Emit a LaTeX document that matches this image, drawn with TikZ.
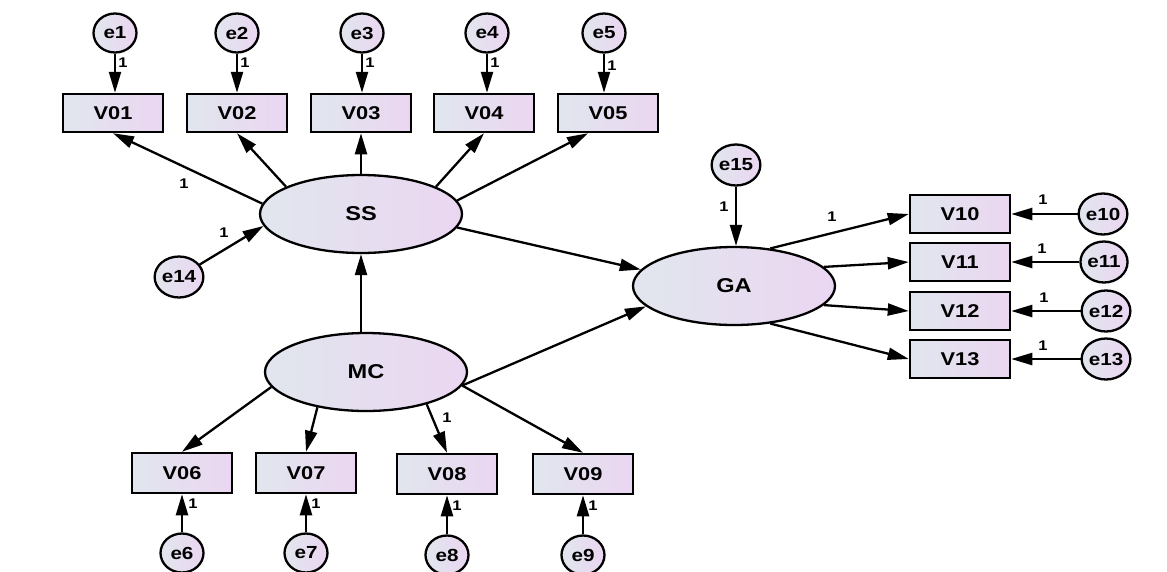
\documentclass[tikz,border=0pt]{standalone}
\usepackage{fontspec}
\setmainfont{Liberation Sans}[FakeStretch=1.18]
\usetikzlibrary{shapes.geometric,arrows.meta}
\definecolor{gradL}{HTML}{E1E6EE}
\definecolor{gradR}{HTML}{EBD6F1}
\tikzset{
 fillgrad/.style={left color=gradL, right color=gradR},
 obs/.style={draw, line width=2.5pt, fillgrad, minimum width=100pt, minimum height=38pt, inner sep=0pt, font=\fontsize{18.5}{18.5}\selectfont\bfseries},
 lat/.style={ellipse, draw, line width=2.3pt, fillgrad, minimum width=202pt, minimum height=78pt, inner sep=0pt, font=\fontsize{20}{20}\selectfont\bfseries},
 err/.style={ellipse, draw, line width=2.3pt, fillgrad, minimum width=43pt, minimum height=39pt, inner sep=0pt, font=\fontsize{17.5}{17.5}\selectfont\bfseries},
 errw/.style={err, minimum width=47pt, minimum height=41pt},
 arr/.style={line width=2.3pt, -{Triangle[length=21pt,width=12pt]}},
 lab/.style={font=\fontsize{14}{14}\selectfont\bfseries, inner sep=0pt},
}
\begin{document}
\begin{tikzpicture}[x=1pt,y=-1pt]
\useasboundingbox (0,0) rectangle (1167,571);
% observed top
\node[obs] (V01) at (113,113) {V01};
\node[obs] (V02) at (237,113) {V02};
\node[obs] (V03) at (361,113) {V03};
\node[obs] (V04) at (484,113) {V04};
\node[obs] (V05) at (608,113) {V05};
\node[err] (e1) at (115,33) {e1};
\node[err] (e2) at (237,33) {e2};
\node[err] (e3) at (362,33) {e3};
\node[err] (e4) at (487,33) {e4};
\node[err] (e5) at (604,33) {e5};
% latents
\node[lat] (SS) at (361,214) {SS};
\node[lat] (GA) at (734,286) {GA};
\node[lat] (MC) at (366,372) {MC};
\node[errw] (e14) at (179,277) {e14};
\node[errw] (e15) at (736,165) {e15};
% right observed
\node[obs] (V10) at (960,214) {V10};
\node[obs] (V11) at (960,262) {V11};
\node[obs] (V12) at (960,311) {V12};
\node[obs] (V13) at (960,359) {V13};
\node[errw] (e10) at (1103,214) {e10};
\node[errw] (e11) at (1104,262) {e11};
\node[errw] (e12) at (1106,311) {e12};
\node[errw] (e13) at (1106,359) {e13};
% bottom observed
\node[obs, minimum height=40pt] (V06) at (182,473) {V06};
\node[obs, minimum height=40pt] (V07) at (306,473) {V07};
\node[obs, minimum height=40pt] (V08) at (447,474) {V08};
\node[obs, minimum height=40pt] (V09) at (583,474) {V09};
\node[err] (e6) at (182,553) {e6};
\node[err] (e7) at (306,553) {e7};
\node[err] (e8) at (447,555) {e8};
\node[err] (e9) at (583,555) {e9};
% error arrows
\foreach \i/\v in {1/V01,2/V02,3/V03,4/V04,5/V05}{
  \draw[arr] (e\i.south) -- (e\i.south |- \v.north);
}
\foreach \i/\v in {6/V06,7/V07,8/V08,9/V09}{
  \draw[arr] (e\i.north) -- (e\i.north |- \v.south);
}
\foreach \i/\v in {10/V10,11/V11,12/V12,13/V13}{
  \draw[arr] (e\i.west) -- (\v.east);
}
\draw[arr] (e14) -- (SS.187);
\draw[arr] (e15.south) -- (e15.south |- GA.north);
% structural
\draw[arr] (SS.174) -- (V01.south);
\draw[arr] (SS.160) -- (V02.south);
\draw[arr] (SS.north) -- (V03.south);
\draw[arr] (SS.20) -- (V04.south);
\draw[arr] (SS.8) -- ([xshift=-20pt]V05.south);
\draw[arr] (SS.-8) -- (GA.170);
\draw[arr] (MC.-8) -- (GA.193);
\draw[arr] (SS.south |- MC.north) -- (SS.south);
\draw[arr] (MC.189) -- (V06.north);
\draw[arr] (MC.216) -- (V07.north);
\draw[arr] (MC.-28) -- (V08.north);
\draw[arr] (MC.-8) -- (V09.north);
\draw[arr] (GA.46) -- (V10.west);
\draw[arr] (GA.12) -- (V11.west);
\draw[arr] (GA.-12) -- (V12.west);
\draw[arr] (GA.-46) -- (V13.west);
% labels
\node[lab] (l1) at (123,63) {1};
\node[lab] (l2) at (245,63) {1};
\node[lab] (l3) at (370,63) {1};
\node[lab] (l4) at (495,63) {1};
\node[lab] (l5) at (612,66) {1};
\node[lab] (l6) at (193,504) {1};
\node[lab] (l7) at (316,504) {1};
\node[lab] (l8) at (457,506) {1};
\node[lab] (l9) at (593,506) {1};
\node[lab] (l10) at (1043,200) {1};
\node[lab] (l11) at (1042,249) {1};
\node[lab] (l12) at (1044,298) {1};
\node[lab] (l13) at (1043,346) {1};
\node[lab] (l14) at (224,233) {1};
\node[lab] (l15) at (724,207) {1};
\node[lab] (lv1) at (184,184) {1};
\node[lab] (lv10) at (832,217) {1};
\node[lab] (lv8) at (447,418) {1};
\end{tikzpicture}
\end{document}
